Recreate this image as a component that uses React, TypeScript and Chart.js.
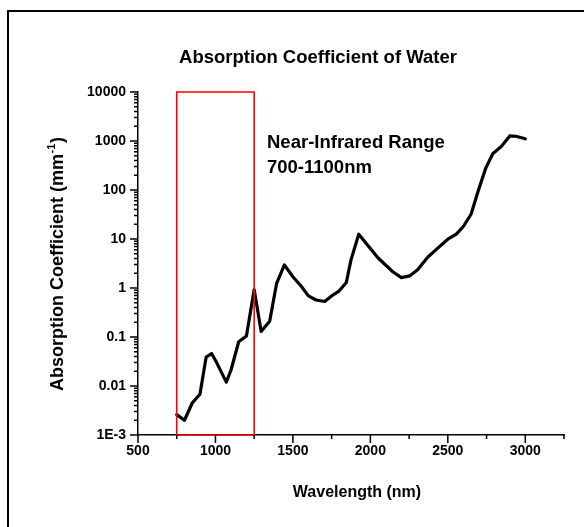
import React, { useEffect, useRef } from "react";
import { Chart, registerables } from "chart.js";

Chart.register(...registerables);

// ---- data ----
const wavelengths = [
  750, 800, 850, 900, 940, 975, 1010, 1070, 1100, 1150, 1200, 1250, 1295, 1350,
  1395, 1445, 1500, 1555, 1600, 1650, 1705, 1750, 1795, 1845, 1875, 1925, 2050,
  2145, 2200, 2255, 2305, 2370, 2435, 2500, 2555, 2600, 2650, 2695, 2745, 2790,
  2845, 2900, 2940, 3000,
];
const absorption = [
  0.0026, 0.002, 0.0045, 0.0068, 0.039, 0.046, 0.029, 0.012, 0.021, 0.08, 0.105,
  0.93, 0.13, 0.21, 1.25, 2.95, 1.7, 1.07, 0.69, 0.57, 0.53, 0.69, 0.85, 1.3,
  3.75, 12.5, 4.1, 2.15, 1.63, 1.77, 2.35, 4.25, 6.5, 9.9, 12.6, 18, 32, 93, 280,
  550, 775, 1270, 1250, 1110,
];
const nirRangeX = [750, 750, 1250, 1250, 750];
const nirRangeY = [0.001, 10000, 10000, 0.001, 0.001];

const xTickValues = [500, 1000, 1500, 2000, 2500, 3000];
const xMinorTickValues = [750, 1250, 1750, 2250, 2750, 3250];
const yTickValues = [0.001, 0.01, 0.1, 1, 10, 100, 1000, 10000];
const yTickLabels = ["1E-3", "0.01", "0.1", "1", "10", "100", "1000", "10000"];

const chartTitle = "Absorption Coefficient of Water";
const xTitle = "Wavelength (nm)";
const yTitleMain = "Absorption Coefficient (mm";
const yTitleSup = "-1";
const yTitleEnd = ")";
const noteLines = ["Near-Infrared Range", "700-1100nm"];

const FONT = '"Liberation Sans", Arial, sans-serif';

const decorPlugin = {
  id: "decor",
  afterDraw(chart: any) {
    const { ctx, scales } = chart;
    const x = scales.x;
    const y = scales.y;
    ctx.save();
    // outer frame (left & top only visible)
    ctx.strokeStyle = "#000";
    ctx.lineWidth = 2;
    ctx.beginPath();
    ctx.moveTo(8, 540);
    ctx.lineTo(8, 11);
    ctx.lineTo(600, 11);
    ctx.stroke();

    // tick marks
    ctx.lineWidth = 1.5;
    const axisY = y.getPixelForValue(0.001);
    const axisX = x.getPixelForValue(500);
    ctx.beginPath();
    xTickValues.forEach((v) => {
      const px = x.getPixelForValue(v);
      ctx.moveTo(px, axisY);
      ctx.lineTo(px, axisY + 8);
    });
    xMinorTickValues.forEach((v) => {
      const px = x.getPixelForValue(v);
      ctx.moveTo(px, axisY);
      ctx.lineTo(px, axisY + 4);
    });
    yTickValues.forEach((v, i) => {
      const py = y.getPixelForValue(v);
      ctx.moveTo(axisX, py);
      ctx.lineTo(axisX - 8, py);
      if (i < yTickValues.length - 1) {
        for (let k = 2; k <= 9; k++) {
          const pm = y.getPixelForValue(v * k);
          ctx.moveTo(axisX, pm);
          ctx.lineTo(axisX - 4, pm);
        }
      }
    });
    ctx.stroke();

    ctx.fillStyle = "#000";
    // chart title
    ctx.font = `bold 18.5px ${FONT}`;
    ctx.textAlign = "center";
    ctx.textBaseline = "alphabetic";
    ctx.fillText(chartTitle, 318, 63);

    // note
    ctx.textAlign = "left";
    ctx.font = `bold 18.5px ${FONT}`;
    ctx.fillText(noteLines[0], 267, 148);
    ctx.fillText(noteLines[1], 267, 173);

    // x title
    ctx.textAlign = "center";
    ctx.font = `bold 16px ${FONT}`;
    ctx.fillText(xTitle, 357, 497);

    // y title (rotated, with superscript)
    ctx.save();
    ctx.translate(62.5, 264.5);
    ctx.rotate(-Math.PI / 2);
    ctx.textAlign = "left";
    ctx.font = `bold 18px ${FONT}`;
    const w1 = ctx.measureText(yTitleMain).width;
    const w3 = ctx.measureText(yTitleEnd).width;
    ctx.font = `bold 11px ${FONT}`;
    const w2 = ctx.measureText(yTitleSup).width;
    const start = -(w1 + w2 + w3) / 2;
    ctx.font = `bold 18px ${FONT}`;
    ctx.fillText(yTitleMain, start, 0);
    ctx.fillText(yTitleEnd, start + w1 + w2 + 1, 0);
    ctx.font = `bold 11px ${FONT}`;
    ctx.fillText(yTitleSup, start + w1 + 0.5, -8);
    ctx.restore();

    ctx.restore();
  },
};

export default function App() {
  const canvasRef = useRef<HTMLCanvasElement | null>(null);

  useEffect(() => {
    const canvas = canvasRef.current;
    if (!canvas) return;
    const chart = new Chart(canvas, {
      type: "line",
      data: {
        datasets: [
          {
            label: "NIR range",
            data: nirRangeX.map((v, i) => ({ x: v, y: nirRangeY[i] })),
            borderColor: "#ff0000",
            borderWidth: 1.6,
            pointRadius: 0,
            fill: false,
            tension: 0,
            clip: false,
          } as any,
          {
            label: "Absorption",
            data: wavelengths.map((w, i) => ({ x: w, y: absorption[i] })),
            borderColor: "#000000",
            borderWidth: 3.2,
            pointRadius: 0,
            fill: false,
            tension: 0,
            borderJoinStyle: "round",
            borderCapStyle: "round",
          } as any,
        ],
      },
      options: {
        responsive: false,
        animation: false,
        layout: { padding: { top: 92, right: 20, left: 0, bottom: 0 } },
        plugins: {
          legend: { display: false },
          tooltip: { enabled: false },
          title: { display: false },
        },
        scales: {
          x: {
            type: "linear",
            min: 500,
            max: 3250,
            afterBuildTicks: (s: any) => {
              s.ticks = xTickValues.map((v) => ({ value: v }));
            },
            afterFit: (s: any) => {
              s.height = 92;
            },
            grid: { display: false, drawTicks: false },
            border: { display: true, color: "#000", width: 1.5 },
            ticks: {
              padding: 8,
              color: "#000",
              maxRotation: 0,
              autoSkip: false,
              font: { family: FONT, size: 14, weight: "bold" },
              callback: (v: any) => String(v),
            },
          },
          y: {
            type: "logarithmic",
            min: 0.001,
            max: 10000,
            afterBuildTicks: (s: any) => {
              s.ticks = yTickValues.map((v) => ({ value: v, major: true }));
            },
            afterFit: (s: any) => {
              s.width = 138;
            },
            grid: { display: false, drawTicks: false },
            border: { display: true, color: "#000", width: 1.5 },
            ticks: {
              padding: 12,
              color: "#000",
              autoSkip: false,
              font: { family: FONT, size: 14, weight: "bold" },
              callback: (_v: any, i: number) => yTickLabels[i],
            },
          },
        },
      } as any,
      plugins: [decorPlugin],
    });
    return () => chart.destroy();
  }, []);

  return (
    <canvas
      ref={canvasRef}
      width={584}
      height={527}
      style={{ position: "fixed", left: 0, top: 0, display: "block", width: 584, height: 527 }}
    />
  );
}
